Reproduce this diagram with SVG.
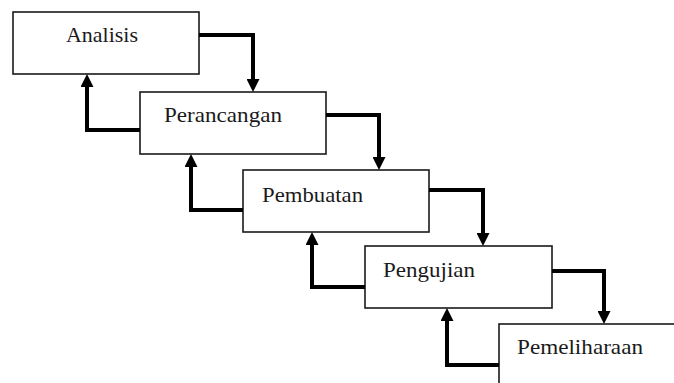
<svg xmlns="http://www.w3.org/2000/svg" width="674" height="383" viewBox="0 0 674 383">
<style>
.box{fill:#fff;stroke:#1a1a1a;stroke-width:1.6}
.lbl{font-size:21px;fill:#1a1a1a}
.con{fill:none;stroke:#000;stroke-width:4;stroke-linejoin:miter}
</style>
<defs>
<marker id="ah" markerUnits="userSpaceOnUse" viewBox="0 0 13 13" refX="0" refY="6.5" markerWidth="13" markerHeight="13" orient="auto">
<path d="M0,0 L13,6.5 L0,13 z" fill="#000"/>
</marker>
</defs>
<rect width="674" height="383" fill="#fff"/>
<g font-family="'Liberation Serif', 'DejaVu Serif', serif">
<g id="analisis"><rect class="box" x="13" y="12" width="186" height="62"/><text class="lbl" x="66" y="42" textLength="72" lengthAdjust="spacingAndGlyphs">Analisis</text></g>
<g id="perancangan"><rect class="box" x="140" y="92" width="186" height="62"/><text class="lbl" x="164" y="122" textLength="118" lengthAdjust="spacingAndGlyphs">Perancangan</text></g>
<g id="pembuatan"><rect class="box" x="243" y="170" width="186" height="62"/><text class="lbl" x="262" y="202" textLength="101" lengthAdjust="spacingAndGlyphs">Pembuatan</text></g>
<g id="pengujian"><rect class="box" x="365" y="246" width="187" height="62"/><text class="lbl" x="383" y="277" textLength="92" lengthAdjust="spacingAndGlyphs">Pengujian</text></g>
<g id="pemeliharaan"><rect class="box" x="499" y="324" width="200" height="80"/><text class="lbl" x="517" y="354" textLength="126" lengthAdjust="spacingAndGlyphs">Pemeliharaan</text></g>
</g>
<g id="connectors">
<path class="con" d="M199,35 H253 V79" marker-end="url(#ah)"/>
<path class="con" d="M140,130 H87 V87" marker-end="url(#ah)"/>
<path class="con" d="M326,115 H379 V157" marker-end="url(#ah)"/>
<path class="con" d="M243,210 H191 V167" marker-end="url(#ah)"/>
<path class="con" d="M429,190 H483 V233" marker-end="url(#ah)"/>
<path class="con" d="M365,287 H312 V245" marker-end="url(#ah)"/>
<path class="con" d="M552,271 H604 V311" marker-end="url(#ah)"/>
<path class="con" d="M499,365 H447 V321" marker-end="url(#ah)"/>
</g>
</svg>
